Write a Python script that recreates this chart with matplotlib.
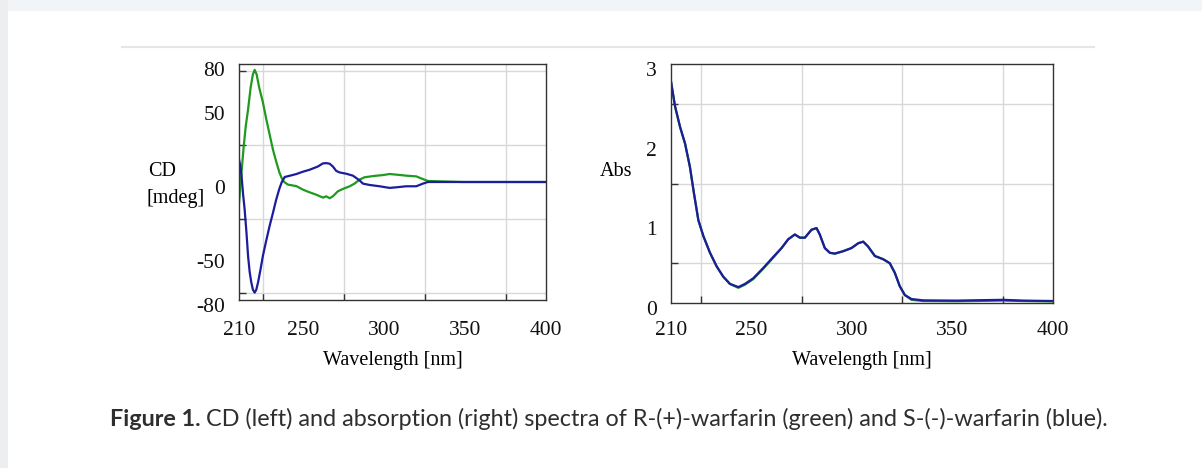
import matplotlib
matplotlib.use("Agg")
import matplotlib.pyplot as plt
from matplotlib.patches import Rectangle
from matplotlib.lines import Line2D
from matplotlib.transforms import ScaledTranslation
import numpy as np

# ---- CD data (left panel) ----
cd_green_x = [210, 211.2, 212.9, 214.2, 215.6, 217.2, 218.6, 219.7, 220.9, 222.5, 224.8, 227,
              229, 231, 233.1, 235, 236.5, 238, 240.3, 242.5, 245.5, 249.6,
              253.7, 257.8, 262, 264, 266.1, 268.1, 271.2, 274.3, 278.5, 281.5, 284.6,
              287.7, 292.9, 299, 303.2, 307.3, 313.5, 319.7, 323.8, 326.9, 332, 348.5, 400]
cd_green_y = [-14.6, 2, 24, 38, 49, 64, 73, 76, 73, 64, 54, 42,
              32, 22, 13.5, 6.5, 2.5, 0, -1.8, -2.2, -2.8, -5.2,
              -7, -8.6, -10.6, -9.7, -11, -9.7, -6.3, -4.7, -2.9, -1.1, 1.6,
              3.2, 4, 4.7, 5.4, 5, 4.3, 3.8, 2, 0.7, 0.5, 0, 0]

cd_blue_x = [210, 210.8, 211.6, 212.5, 213.5, 214.6, 215.6, 216.6, 217.6, 218.6, 219.7, 220.7,
             221.8, 223.2, 224.8, 226.8, 228.9, 231, 233, 235, 236.5, 238.3,
             241.3, 245.5, 249.6, 253.7, 258.8, 261.9, 264, 266.1, 268.1, 270.2, 272.2, 276.4,
             280.5, 284.6, 286.7, 290.8, 297, 303.2, 307.3, 313.5, 319.7, 323.8, 326.9, 400]
cd_blue_y = [15.3, 11, 3.8, -8, -18.7, -34, -50, -61, -68, -73, -75, -73,
             -68, -60, -50, -40, -30, -21, -12, -4.5, 0, 3.4,
             4.2, 5.4, 7, 8.3, 10.5, 12.6, 12.8, 12.4, 10.5, 7.5, 6.5, 5.6,
             4.3, 1.1, -1.1, -2, -2.9, -4, -3.6, -2.9, -2.9, -1.1, 0, 0]

# ---- Absorption data (right panel) ----
abs_x = [210, 212, 214.5, 217, 219.4, 221.4, 223.6, 226.1, 229.4, 232.7, 236, 239.3, 243.5,
         246.8, 250.9, 255.9, 260.9, 265, 268.3, 271.6, 274.1, 276.6, 279.9, 282.4, 284,
         286.5, 289, 291.5, 295.6, 299.8, 303.1, 305.6, 308, 311.4, 315.5, 318.8, 321.3,
         323.8, 326.3, 329.6, 335.4, 352, 375.2, 385, 400]
abs_blue = [2.78, 2.47, 2.21, 2.0, 1.71, 1.38, 1.04, 0.84, 0.63, 0.46, 0.33, 0.24, 0.2,
            0.24, 0.31, 0.44, 0.58, 0.69, 0.8, 0.86, 0.82, 0.82, 0.92, 0.94, 0.86,
            0.69, 0.63, 0.62, 0.65, 0.69, 0.75, 0.77, 0.71, 0.59, 0.55, 0.5, 0.38,
            0.21, 0.10, 0.05, 0.033, 0.03, 0.04, 0.03, 0.025]
abs_green = [2.78, 2.47, 2.21, 2.0, 1.71, 1.38, 1.04, 0.84, 0.63, 0.46, 0.33, 0.24, 0.19,
             0.23, 0.30, 0.43, 0.57, 0.69, 0.8, 0.86, 0.82, 0.82, 0.92, 0.94, 0.86,
             0.69, 0.63, 0.62, 0.65, 0.69, 0.75, 0.77, 0.71, 0.59, 0.55, 0.5, 0.38,
             0.21, 0.10, 0.04, 0.025, 0.022, 0.03, 0.025, 0.02]

x_ticks = [210, 250, 300, 350, 400]
x_labels = ["210", "250", "300", "350", "400"]
cd_yticks = [-80, -50, 0, 50, 80]
cd_ylabels = ["-80", "-50", "0", "50", "80"]
abs_yticks = [0, 1, 2, 3]
abs_ylabels = ["0", "1", "2", "3"]

GREEN = "#1f9a1f"
BLUE = "#1c1c9c"
GRID = "#d8d8d8"
SERIF = ["Liberation Serif", "DejaVu Serif"]
plt.rcParams["font.family"] = SERIF

fig = plt.figure(figsize=(12.02, 4.68), dpi=100)
W, H = 1202, 468
FS = 15.5

# background: top strip and left shadow
fig.patches.append(Rectangle((0, 1 - 11 / H), 1, 11 / H, transform=fig.transFigure,
                             facecolor="#f2f5f7", edgecolor="none", zorder=0))
fig.patches.append(Rectangle((0, 0), 8 / W, 1, transform=fig.transFigure,
                             facecolor="#eceeef", edgecolor="none", zorder=0))
fig.lines.append(Line2D([122 / W, 1094 / W], [1 - 47 / H, 1 - 47 / H], transform=fig.transFigure,
                        color="#e6e6e6", lw=1.5))


def style_axes(ax, xlim, ylim, xminor, yminor, yticks, ylabels, xpad):
    ax.set_xlim(*xlim)
    ax.set_ylim(*ylim)
    ax.set_xticks(x_ticks, x_labels)
    ax.set_yticks(yticks, ylabels)
    ax.set_xticks(xminor, minor=True)
    ax.set_yticks(yminor, minor=True)
    ax.tick_params(which="major", length=0, labelsize=FS, colors="#111111")
    ax.tick_params(which="minor", direction="in", length=5, width=1, color="#333333")
    ax.tick_params(axis="x", which="major", pad=xpad)
    ax.tick_params(axis="y", which="major", pad=10)
    ax.grid(True, which="minor", color=GRID, lw=1)
    ax.grid(False, which="major")
    for s in ax.spines.values():
        s.set_color("#333333")
        s.set_linewidth(1)
    for lab in ax.get_yticklabels():
        lab.set_transform(lab.get_transform() + ScaledTranslation(0, -0.05, fig.dpi_scale_trans))


# Left CD panel
ax1 = fig.add_axes([239 / W, 1 - 300 / H, 307 / W, 236 / H])
ax1.plot(cd_green_x, cd_green_y, color=GREEN, lw=1.6)
ax1.plot(cd_blue_x, cd_blue_y, color=BLUE, lw=1.6)
style_axes(ax1, (210, 400), (-80, 80), np.arange(225, 400, 25), np.arange(-75, 80, 25),
           cd_yticks, cd_ylabels, 15)
ax1.set_xlabel("Wavelength [nm]", fontsize=14.5, labelpad=8)
fig.text(148 / W, 1 - 171 / H, "CD", fontsize=14.5, va="center", ha="left")
fig.text(146 / W, 1 - 198 / H, "[mdeg]", fontsize=14.5, va="center", ha="left")

# Right absorbance panel
ax2 = fig.add_axes([671 / W, 1 - 303 / H, 382 / W, 239 / H])
ax2.plot(abs_x, abs_green, color=GREEN, lw=1.6)
ax2.plot(abs_x, abs_blue, color=BLUE, lw=1.6)
style_axes(ax2, (210, 400), (0, 3), np.arange(225, 400, 25), np.arange(0.5, 3, 0.5),
           abs_yticks, abs_ylabels, 13)
ax2.set_xlabel("Wavelength [nm]", fontsize=14.5, labelpad=8)
fig.text(600 / W, 1 - 172 / H, "Abs", fontsize=14.5, va="center", ha="left")

# Caption
renderer = fig.canvas.get_renderer()
t1 = fig.text(110 / W, 1 - 426 / H, "Figure 1.", fontfamily="Lato", fontweight="bold",
              fontsize=16.8, color="#2e2e2e", va="baseline", ha="left")
bb = t1.get_window_extent(renderer)
fig.text((bb.x1 + 5) / W, 1 - 426 / H,
         "CD (left) and absorption (right) spectra of R-(+)-warfarin (green) and S-(-)-warfarin (blue).",
         fontfamily="Lato", fontsize=16.8, color="#2e2e2e", va="baseline", ha="left")

fig.savefig("out.png", dpi=100, facecolor="white")
